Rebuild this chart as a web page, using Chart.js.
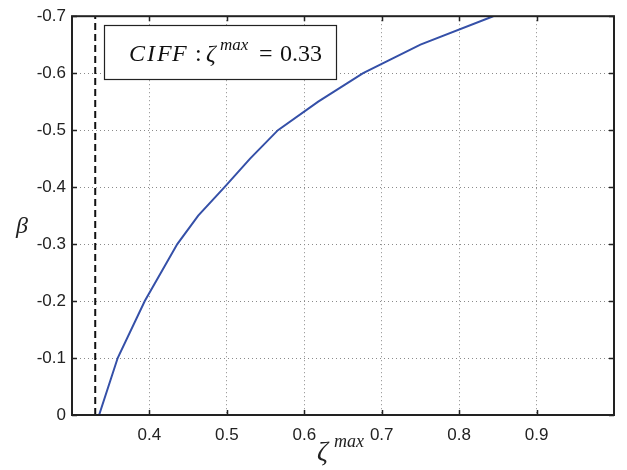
<!DOCTYPE html>
<html>
<head>
<meta charset="utf-8">
<script src="https://cdn.jsdelivr.net/npm/chart.js@4/dist/chart.umd.min.js"></script>
<style>
html,body{margin:0;padding:0;background:#fff;}
#wrap{width:627px;height:470px;position:relative;}
</style>
</head>
<body>
<div id="wrap"><canvas id="c" width="627" height="470"></canvas></div>
<script>
// ---- data ----
const zetaMax = [0.335, 0.359, 0.394, 0.436, 0.463, 0.497, 0.53, 0.566, 0.618, 0.676, 0.75, 0.844];
const beta    = [0, -0.1, -0.2, -0.3, -0.35, -0.4, -0.45, -0.5, -0.55, -0.6, -0.65, -0.7];
const ciffZeta = [0.33, 0.33];
const ciffBeta = [0, -0.7];
const xTicks = [0.4, 0.5, 0.6, 0.7, 0.8, 0.9];
const xTickLabels = ['0.4', '0.5', '0.6', '0.7', '0.8', '0.9'];
const yTicks = [0, -0.1, -0.2, -0.3, -0.4, -0.5, -0.6, -0.7];
const yTickLabels = ['0', '-0.1', '-0.2', '-0.3', '-0.4', '-0.5', '-0.6', '-0.7'];

const curve = zetaMax.map((x, i) => ({x, y: beta[i]}));
const vline = ciffZeta.map((x, i) => ({x, y: ciffBeta[i]}));

function labelFor(ticks, labels, v) {
  for (let i = 0; i < ticks.length; i++) if (Math.abs(ticks[i] - v) < 1e-9) return labels[i];
  return '';
}

const frame = {
  id: 'frame',
  afterDatasetsDraw(chart) {
    const ctx = chart.ctx;
    // annotation box
    ctx.save();
    ctx.fillStyle = '#fff';
    ctx.fillRect(104, 25, 233, 54);
    ctx.strokeStyle = '#222';
    ctx.lineWidth = 1.2;
    ctx.strokeRect(104.5, 25.5, 232, 54);
    ctx.fillStyle = '#111';
    ctx.textBaseline = 'alphabetic';
    const base = 61;
    const it = 'italic 24px "Liberation Serif", "DejaVu Serif", serif';
    const up = '24px "Liberation Serif", "DejaVu Serif", serif';
    const sup = 'italic 17px "Liberation Serif", "DejaVu Serif", serif';
    ctx.font = it;
    ctx.fillText('C', 129, base);
    ctx.fillText('I', 147, base);
    ctx.fillText('F', 157, base);
    ctx.fillText('F', 172, base);
    ctx.font = up; ctx.fillText(':', 195, base);
    ctx.font = it; ctx.fillText('ζ', 206, base);
    ctx.font = sup; ctx.fillText('max', 220, base - 11);
    ctx.font = up; ctx.fillText('=', 259, base);
    ctx.font = up; ctx.fillText('0.33', 280, base);
    ctx.restore();
  },
  afterDraw(chart) {
    const ctx = chart.ctx;
    const a = chart.chartArea;
    const xs = chart.scales.x, ys = chart.scales.y;
    ctx.save();
    ctx.strokeStyle = '#222';
    ctx.lineWidth = 1.5;
    ctx.beginPath();
    xTicks.forEach(v => {
      const p = Math.round(xs.getPixelForValue(v)) + 0.5;
      ctx.moveTo(p, a.bottom); ctx.lineTo(p, a.bottom - 5);
      ctx.moveTo(p, a.top); ctx.lineTo(p, a.top + 5);
    });
    yTicks.forEach(v => {
      const p = Math.round(ys.getPixelForValue(v)) + 0.5;
      ctx.moveTo(a.left, p); ctx.lineTo(a.left + 5, p);
      ctx.moveTo(a.right, p); ctx.lineTo(a.right - 5, p);
    });
    ctx.stroke();
    ctx.lineWidth = 2;
    ctx.strokeRect(a.left, a.top, a.right - a.left, a.bottom - a.top);
    // axis titles
    ctx.fillStyle = '#222';
    ctx.textBaseline = 'alphabetic';
    ctx.font = 'italic 27px "Liberation Serif", "DejaVu Serif", serif';
    ctx.fillText('ζ', 317, 460);
    ctx.font = 'italic 18px "Liberation Serif", "DejaVu Serif", serif';
    ctx.fillText('max', 334, 447);
    ctx.font = 'italic 24px "Liberation Serif", "DejaVu Serif", serif';
    ctx.textAlign = 'center';
    ctx.fillText('β', 22, 233);
    ctx.restore();
  }
};

new Chart(document.getElementById('c'), {
  type: 'scatter',
  data: {
    datasets: [
      {data: curve, showLine: true, borderColor: '#3550a8', borderWidth: 2, pointRadius: 0, tension: 0, fill: false},
      {data: vline, showLine: true, borderColor: '#111', borderWidth: 2, borderDash: [7, 4], pointRadius: 0, fill: false}
    ]
  },
  options: {
    responsive: false,
    animation: false,
    events: [],
    layout: {padding: {top: 10, right: 13, left: 0, bottom: 0}},
    plugins: {legend: {display: false}, tooltip: {enabled: false}},
    scales: {
      x: {
        type: 'linear', min: 0.3, max: 1.0,
        afterBuildTicks: s => { s.ticks = xTicks.map(v => ({value: v})); },
        afterFit: s => { s.height = 55; },
        ticks: {
          callback: v => labelFor(xTicks, xTickLabels, v),
          color: '#222', padding: 10, maxRotation: 0, autoSkip: false,
          font: {family: '"Liberation Sans", Arial, sans-serif', size: 17}
        },
        grid: {color: '#8a8a8a', lineWidth: 1, drawTicks: false},
        border: {display: false, dash: [1, 3]}
      },
      y: {
        type: 'linear', min: -0.7, max: 0, reverse: true,
        afterBuildTicks: s => { s.ticks = yTicks.map(v => ({value: v})); },
        afterFit: s => { s.width = 72; },
        ticks: {
          callback: v => labelFor(yTicks, yTickLabels, v),
          color: '#222', padding: 6, autoSkip: false,
          font: {family: '"Liberation Sans", Arial, sans-serif', size: 17}
        },
        grid: {color: '#8a8a8a', lineWidth: 1, drawTicks: false},
        border: {display: false, dash: [1, 3]}
      }
    }
  },
  plugins: [frame]
});
</script>
</body>
</html>
